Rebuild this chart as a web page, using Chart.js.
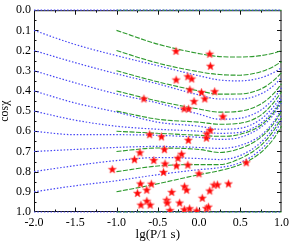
<!DOCTYPE html>
<html>
<head>
<meta charset="utf-8">
<script src="https://cdn.jsdelivr.net/npm/chart.js@4.4.0/dist/chart.umd.min.js"></script>
<style>
  html, body { margin: 0; padding: 0; background: #fff; }
</style>
</head>
<body>
<canvas id="chart" width="293" height="245"></canvas>
<script>
const blueLg = [-2, -1.5, -1, -0.5, 0, 0.25, 0.5, 0.75, 0.9, 1];
const greenLg = [-1, -0.5, 0, 0.25, 0.5, 0.75, 0.9, 1];

// cos chi along the dotted (blue) tracks
const blueCos = [
  [0, 0, 0, 0, 0, 0, 0, 0, 0, 0],
  [0.10, 0.17, 0.225, 0.275, 0.325, 0.346, 0.35, 0.335, 0.31, 0.285],
  [0.20, 0.26, 0.315, 0.365, 0.42, 0.44, 0.44, 0.415, 0.375, 0.335],
  [0.30, 0.36, 0.415, 0.46, 0.515, 0.54, 0.535, 0.495, 0.44, 0.385],
  [0.40, 0.46, 0.505, 0.555, 0.575, 0.59, 0.585, 0.54, 0.48, 0.425],
  [0.50, 0.545, 0.575, 0.59, 0.60, 0.61, 0.605, 0.56, 0.50, 0.44],
  [0.60, 0.617, 0.617, 0.62, 0.63, 0.64, 0.63, 0.58, 0.52, 0.46],
  [0.70, 0.69, 0.68, 0.675, 0.68, 0.685, 0.67, 0.62, 0.555, 0.49],
  [0.80, 0.77, 0.745, 0.73, 0.735, 0.74, 0.72, 0.655, 0.585, 0.52],
  [0.90, 0.87, 0.845, 0.815, 0.79, 0.78, 0.755, 0.69, 0.62, 0.55],
  [1, 1, 1, 1, 1, 1, 1, 1, 1, 1]
];

// cos chi along the dashed (green) tracks
const greenCos = [
  [0, 0, 0, 0, 0, 0, 0, 0],
  [0.10, 0.168, 0.215, 0.23, 0.232, 0.225, 0.213, 0.20],
  [0.20, 0.262, 0.305, 0.319, 0.322, 0.305, 0.28, 0.255],
  [0.30, 0.355, 0.40, 0.416, 0.415, 0.39, 0.35, 0.31],
  [0.40, 0.45, 0.49, 0.505, 0.50, 0.465, 0.415, 0.365],
  [0.50, 0.54, 0.555, 0.565, 0.56, 0.52, 0.46, 0.405],
  [0.60, 0.61, 0.62, 0.625, 0.615, 0.57, 0.51, 0.45],
  [0.70, 0.683, 0.69, 0.705, 0.685, 0.63, 0.565, 0.50],
  [0.80, 0.772, 0.765, 0.765, 0.735, 0.67, 0.60, 0.535],
  [0.90, 0.86, 0.815, 0.795, 0.765, 0.705, 0.64, 0.575],
  [1, 1, 1, 1, 1, 1, 1, 1]
];

// observed pulsars
const starLg = [-0.279, 0.130, 0.138, -0.277, -0.135, -0.088, -0.111, 0.030, 0.190, 0.070,
  -0.060, -0.180, -0.126, 0.289, -0.668, -0.598, -0.716, -0.782, -1.051, -0.710,
  -0.746, -0.634, -0.704, -0.632, -0.592, -0.455, -0.419, -0.129, 0.136, 0.096,
  0.090, -0.211, -0.255, -0.273, -0.135, -0.548, -0.412, -0.431, 0.000, -0.578,
  -0.331, -0.175, -0.150, -0.391, -0.385, -0.235, -0.351, -0.178, -0.114, -0.028,
  0.090, 0.114, 0.040, 0.130, 0.183, 0.223, 0.357, 0.572];
const starCos = [0.204, 0.218, 0.278, 0.346, 0.330, 0.341, 0.395, 0.408, 0.404, 0.440,
  0.453, 0.489, 0.490, 0.528, 0.440, 0.617, 0.707, 0.741, 0.790, 0.861,
  0.908, 0.892, 0.966, 0.947, 0.966, 0.628, 0.691, 0.645, 0.596, 0.614,
  0.634, 0.714, 0.734, 0.772, 0.768, 0.745, 0.762, 0.804, 0.811, 0.862,
  0.903, 0.875, 0.892, 0.942, 0.956, 0.956, 0.993, 0.989, 0.984, 0.995,
  0.983, 0.976, 0.932, 0.896, 0.867, 0.866, 0.861, 0.756];

const xTicks = [-2, -1.5, -1, -0.5, 0, 0.5, 1];
const yTicks = [0, 0.1, 0.2, 0.3, 0.4, 0.5, 0.6, 0.7, 0.8, 0.9, 1];

// filled five-point star used as point marker
function makeStar(r) {
  const s = Math.ceil(r * 2 + 2);
  const c = document.createElement('canvas');
  c.width = s;
  c.height = s;
  const g = c.getContext('2d');
  g.beginPath();
  for (let i = 0; i < 10; i++) {
    const rad = i % 2 ? r * 0.45 : r;
    const ang = -Math.PI / 2 + i * Math.PI / 5;
    g.lineTo(s / 2 + rad * Math.cos(ang), s / 2 + rad * Math.sin(ang));
  }
  g.closePath();
  g.fillStyle = '#ff0a0a';
  g.fill();
  g.strokeStyle = '#ff6a6a';
  g.lineWidth = 0.6;
  g.stroke();
  return c;
}

const datasets = [{
  data: starLg.map((v, i) => ({ x: v, y: starCos[i] })),
  showLine: false,
  pointStyle: makeStar(4.3),
  pointRadius: 5
}];

blueCos.forEach(row => {
  datasets.push({
    data: blueLg.map((v, i) => ({ x: v, y: row[i] })),
    borderColor: '#4646f5',
    borderWidth: 1.2,
    borderDash: [1.5, 1.8],
    pointRadius: 0,
    cubicInterpolationMode: 'monotone',
    clip: 3
  });
});

greenCos.forEach(row => {
  datasets.push({
    data: greenLg.map((v, i) => ({ x: v, y: row[i] })),
    borderColor: '#2e9a2e',
    borderWidth: 1.1,
    borderDash: [5, 1.5],
    pointRadius: 0,
    cubicInterpolationMode: 'monotone',
    clip: 3
  });
});

// box around the plot with inward ticks on all four sides
const frameTicks = {
  id: 'frameTicks',
  beforeDatasetsDraw(chart) {
    const { ctx, chartArea: a, scales: { x, y } } = chart;
    ctx.save();
    ctx.strokeStyle = '#111';
    ctx.lineWidth = 1;
    ctx.beginPath();
    for (let i = 1; i < 12; i++) {
      const px = Math.round(x.getPixelForValue(-2 + i * 0.25)) + 0.5;
      const len = i % 2 ? 2.5 : 4.5;
      ctx.moveTo(px, a.bottom);
      ctx.lineTo(px, a.bottom - len);
      ctx.moveTo(px, a.top);
      ctx.lineTo(px, a.top + len);
    }
    for (let i = 1; i < 20; i++) {
      const py = Math.round(y.getPixelForValue(i * 0.05)) + 0.5;
      const len = i % 2 ? 2.5 : 4.5;
      ctx.moveTo(a.left, py);
      ctx.lineTo(a.left + len, py);
      ctx.moveTo(a.right, py);
      ctx.lineTo(a.right - len, py);
    }
    ctx.stroke();
    ctx.strokeRect(a.left + 0.5, a.top + 0.5, a.right - a.left - 1, a.bottom - a.top - 1);
    ctx.restore();
  }
};

const font = 'Liberation Serif';

new Chart(document.getElementById('chart'), {
  type: 'line',
  data: { datasets },
  options: {
    responsive: false,
    animation: false,
    events: [],
    layout: { padding: { left: 0, right: 9, top: 6, bottom: 0 } },
    plugins: { legend: { display: false }, tooltip: { enabled: false } },
    scales: {
      x: {
        type: 'linear',
        min: -2,
        max: 1,
        afterFit: s => { s.height = 33; },
        afterBuildTicks: s => { s.ticks = xTicks.map(v => ({ value: v })); },
        grid: { display: false, drawTicks: false },
        border: { display: false },
        ticks: {
          padding: 4,
          color: '#000',
          font: { family: font, size: 12 },
          callback: v => v.toFixed(1)
        },
        title: {
          display: true,
          text: 'lg(P/1 s)',
          color: '#000',
          font: { family: font, size: 13 },
          padding: { top: 0, bottom: 3 }
        }
      },
      y: {
        type: 'linear',
        reverse: true,
        min: 0,
        max: 1,
        afterFit: s => { s.width = 34; },
        afterBuildTicks: s => { s.ticks = yTicks.map(v => ({ value: v })); },
        grid: { display: false, drawTicks: false },
        border: { display: false },
        ticks: {
          padding: 3,
          color: '#000',
          font: { family: font, size: 12 },
          callback: v => v.toFixed(1)
        },
        title: {
          display: true,
          text: 'cosχ',
          color: '#000',
          font: { family: font, size: 12, lineHeight: 0.8 },
          padding: { top: 0, bottom: 0 }
        }
      }
    }
  },
  plugins: [frameTicks]
});
</script>
</body>
</html>
